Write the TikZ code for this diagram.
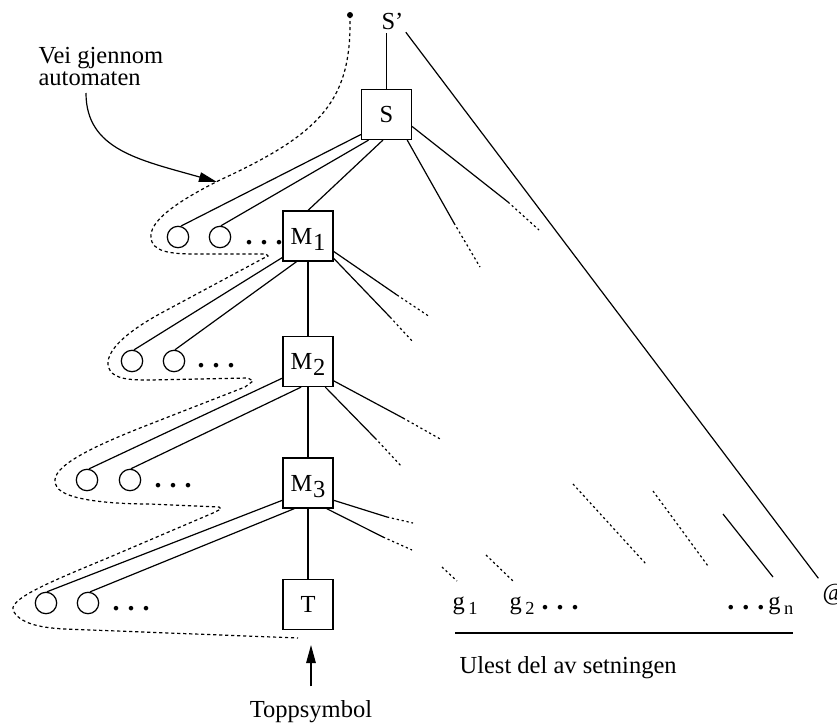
\documentclass[tikz,border=0pt]{standalone}
\usepackage{fontspec}
\setmainfont{Liberation Serif}
\usetikzlibrary{arrows.meta}

\newcommand{\msub}[1]{M\kern0.3pt\raisebox{-3.2pt}[0pt][0pt]{#1}}
\newcommand{\gsub}[1]{g\kern1.8pt\raisebox{-2.6pt}{\fontsize{9.2}{9.2}\selectfont #1}}
\newcommand{\dotsrow}{{\fontsize{14}{14}\bfseries .\kern4pt.\kern4pt.}}

\tikzset{
  box/.style={draw, minimum size=25pt, inner sep=0pt},
  ring/.style={draw, circle, minimum size=10.7pt, inner sep=0pt},
  lbl/.style={inner sep=0pt},
  tail/.style={dash pattern=on 1.1pt off 1.4pt},
  trail/.style={dash pattern=on 1.6pt off 1.4pt},
  tip/.style={-{Triangle[length=9pt,width=4.8pt]}}
}

\begin{document}
\begin{tikzpicture}[x=0.5pt, y=-0.5pt, line width=0.6pt,
    font=\fontsize{12.25}{11}\selectfont]
\useasboundingbox (0,0) rectangle (837,724);

% the stack of boxes
\node[box] (S)  at (386.5,114.5) {S};
\node[box] (M1) at (308,236)   {\msub{1}};
\node[box] (M2) at (308,361.5) {\msub{2}};
\node[box] (M3) at (308,483)   {\msub{3}};
\node[box] (T)  at (308,604.5) {T};
\node[lbl, anchor=base] (sp) at (392.5,29) {S'};

% circles and dots on each level
\node[ring] (c11) at (178,237) {};
\node[ring] (c12) at (220,237) {};
\node[lbl, anchor=base west] (d1) at (245,244.5) {\dotsrow};
\node[ring] (c21) at (132,361) {};
\node[ring] (c22) at (174,361) {};
\node[lbl, anchor=base west] (d2) at (197,367) {\dotsrow};
\node[ring] (c31) at (87,480) {};
\node[ring] (c32) at (130,480) {};
\node[lbl, anchor=base west] (d3) at (154,487) {\dotsrow};
\node[ring] (c41) at (46,603) {};
\node[ring] (c42) at (88,603) {};
\node[lbl, anchor=base west] (d4) at (112,610) {\dotsrow};

% input string
\node[lbl, anchor=base west] (g1) at (452,609) {\gsub{1}};
\node[lbl, anchor=base west] (g2) at (509,609) {\gsub{2}\kern3.5pt\dotsrow};
\node[lbl, anchor=base east] (gn) at (794,609) {\dotsrow\kern2pt\gsub{n}};
\node[lbl, anchor=base west] (at) at (822,600) {@};
\node[lbl, anchor=base west] (ulest) at (459,673) {Ulest del av setningen};
\node[lbl, anchor=base] (top) at (311,717) {Toppsymbol};
\node[lbl, anchor=north west, align=left] (vei) at (38,46.5) {Vei gjennom\\automaten};

\coordinate (start) at (350,15);
\coordinate (va) at (86,93);
\coordinate (vb) at (217,182);
\coordinate (ul1) at (455,633);
\coordinate (ul2) at (793,633);

% edges of the stack
\draw[shorten >=1.5pt] (S.north) -- (S.north |- sp.south);
\draw[shorten <=1.5pt, shorten >=3pt] (sp.south east) -- (at.north west);
\draw (S.262) -- (M1.north);
\draw (M1.south) -- (M2.north);
\draw (M2.south) -- (M3.north);
\draw (M3.south) -- (T.north);

% edges to the circles
\draw (S.218) -- (c11.75);
\draw (S.235) -- (c12.85);
\draw (M1.220) -- (c21.80);
\draw (M1.246) -- (c22.85);
\draw (M2.213) -- (c31.80);
\draw (M2.255) -- (c32.85);
\draw (M3.214) -- (c41.85);
\draw (M3.242.5) -- (c42.80);

% edges to the right, fading out
\coordinate (sa1) at (508,202);  \coordinate (sa2) at (539,230);
\coordinate (sb1) at (454,223);  \coordinate (sb2) at (480,267);
\coordinate (m1a1) at (397,295); \coordinate (m1a2) at (430,317);
\coordinate (m1b1) at (390,317); \coordinate (m1b2) at (413,342);
\coordinate (m2a1) at (403,418); \coordinate (m2a2) at (442,440);
\coordinate (m2b1) at (375,438); \coordinate (m2b2) at (402,467);
\coordinate (m3a1) at (387,517); \coordinate (m3a2) at (413,523);
\coordinate (m3b1) at (383,537); \coordinate (m3b2) at (412,550);
\draw (S.335) -- (sa1);   \draw[tail] (sa1) -- (sa2);
\draw (S.309) -- (sb1);   \draw[tail] (sb1) -- (sb2);
\draw (M1.329) -- (m1a1); \draw[tail] (m1a1) -- (m1a2);
\draw (M1.319) -- (m1b1); \draw[tail] (m1b1) -- (m1b2);
\draw (M2.323.5) -- (m2a1); \draw[tail] (m2a1) -- (m2a2);
\draw (M2.304) -- (m2b1); \draw[tail] (m2b1) -- (m2b2);
\draw (M3.326) -- (m3a1); \draw[tail] (m3a1) -- (m3a2);
\draw (M3.306) -- (m3b1); \draw[tail] (m3b1) -- (m3b2);

% loose branches above the input
\coordinate (f1a) at (442,567); \coordinate (f1b) at (457,581);
\coordinate (f2a) at (486,555); \coordinate (f2b) at (513,581);
\coordinate (f3a) at (573,484); \coordinate (f3b) at (646,564);
\coordinate (f4a) at (653,491); \coordinate (f4b) at (708,566);
\coordinate (f5a) at (723,514); \coordinate (f5b) at (773,577);
\draw[tail] (f1a) -- (f1b);
\draw[tail] (f2a) -- (f2b);
\draw[tail] (f3a) -- (f3b);
\draw[tail] (f4a) -- (f4b);
\draw (f5a) -- (f5b);

\draw (ul1) -- (ul2);
\draw[tip, shorten <=6.5pt, shorten >=7.5pt] (top.north) -- (top.north |- T.south);
\draw[tip] (va) .. controls (86,150) and (140,160) .. (vb);

% path through the automaton
\fill (start) circle (1.5pt);
\draw[trail] (start) .. controls (352,100) and (322,133) .. (220,180)
  .. controls (170,205) and (145,225) .. (152,242)
  .. controls (157,254) and (180,254) .. (200,254)
  -- (266,254) -- (268,256) -- (262,259)
  -- (165,311)
  .. controls (114,338) and (100,360) .. (112,373)
  .. controls (120,380) and (135,380) .. (150,380)
  -- (248,378) -- (253,381) -- (245,387)
  -- (140,428)
  .. controls (85,450) and (45,470) .. (57,487)
  .. controls (65,500) and (110,504) .. (150,504)
  -- (219,507) -- (221,509) -- (213,513)
  -- (110,557)
  .. controls (50,582) and (5,600) .. (14,612)
  .. controls (22,625) and (45,628) .. (65,629)
  -- (298,638);
\end{tikzpicture}
\end{document}
